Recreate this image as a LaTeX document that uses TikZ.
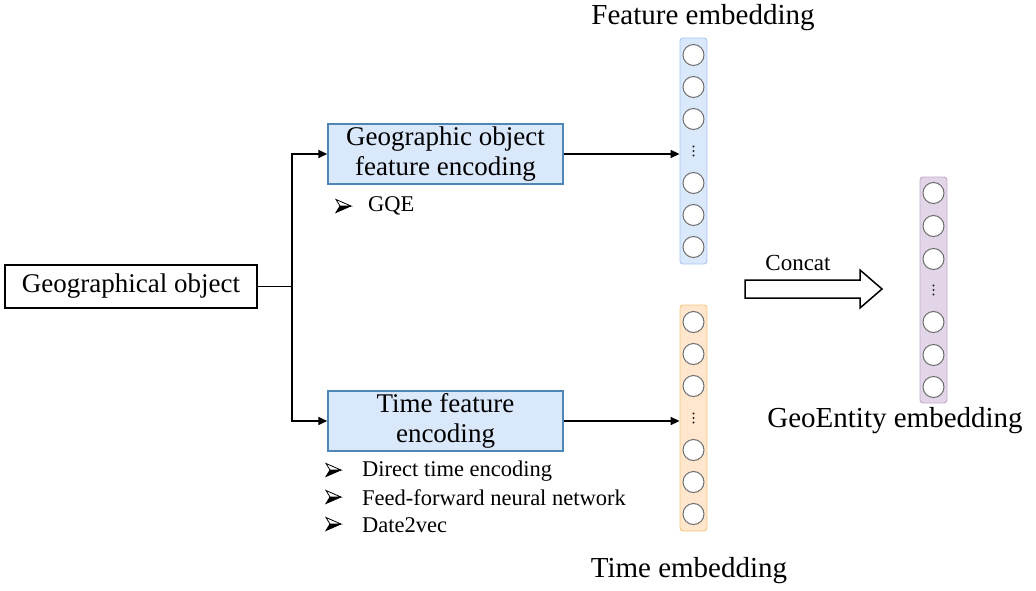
\documentclass[tikz,border=0pt]{standalone}
\usepackage{fontspec}
\setmainfont{Liberation Serif}
\usetikzlibrary{arrows.meta}
\definecolor{encfill}{HTML}{DAE8FC}
\definecolor{encdraw}{HTML}{4F86B5}
\definecolor{vbfill}{HTML}{DAE8FC}
\definecolor{vbdraw}{HTML}{A9C4EB}
\definecolor{vofill}{HTML}{FFE6CC}
\definecolor{vodraw}{HTML}{F2C77E}
\definecolor{vpfill}{HTML}{E1D5E7}
\definecolor{vpdraw}{HTML}{C3ABD0}
\definecolor{neudraw}{HTML}{6E6E6E}
\tikzset{
  plainbox/.style={draw=black, line width=1.1pt, minimum width=252pt, minimum height=43pt, inner sep=0pt, font=\fontsize{27}{30}\selectfont},
  encbox/.style={draw=encdraw, fill=encfill, line width=1.5pt, minimum width=235pt, minimum height=60pt, inner sep=0pt, align=center, font=\fontsize{27}{30}\selectfont},
  bultext/.style={anchor=west, inner sep=0pt, font=\fontsize{22.5}{25}\selectfont},
  biglabel/.style={inner sep=0pt, font=\fontsize{29}{32}\selectfont},
  vecbox/.style={rounded corners=3pt, line width=0.9pt, minimum width=27pt, minimum height=226pt, inner sep=0pt},
  neuron/.style={circle, draw=neudraw, fill=white, line width=1pt, minimum size=21pt, inner sep=0pt},
  conn/.style={draw=black, line width=1.8pt},
  arr/.style={conn, -{Triangle[length=9pt,width=8pt]}},
  bulletsym/.pic={
    \fill[black] (0,6.5) -- (15,0) -- (4,0) -- cycle;
    \draw[black, line width=0.8pt, line join=miter] (0,-6.5) -- (15,0) -- (4,0) -- cycle;
    \draw[black, line width=0.8pt, line join=miter] (4,0) -- (0,6.5) -- (15,0);
  },
}
\begin{document}
\begin{tikzpicture}[x=1pt,y=-1pt]
\useasboundingbox (0,0) rectangle (1036,591);
% input
\node[plainbox] (geo) at (131,286.5) {Geographical object};
% encoders
\node[encbox] (gfe) at (445.5,154) {Geographic object\\feature encoding};
\node[encbox] (tfe) at (445.5,421) {Time feature\\encoding};
% bullets
\node[bultext] (b1) at (368,206) {GQE};
\node[bultext] (b2) at (362,471) {Direct time encoding};
\node[bultext] (b3) at (362,498) {Feed-forward neural network};
\node[bultext] (b4) at (362,525) {Date2vec};
\pic at (336,206) {bulletsym};
\pic at (326,470) {bulletsym};
\pic at (326,497) {bulletsym};
\pic at (326,524) {bulletsym};
% vectors
\node[vecbox, draw=vbdraw, fill=vbfill] (fv) at (693.5,151) {};
\node[vecbox, draw=vodraw, fill=vofill] (tv) at (693.5,418) {};
\node[vecbox, draw=vpdraw, fill=vpfill] (gv) at (933.5,290) {};
\foreach \i/\dy in {1/-96,2/-64,3/-32,5/32,6/64,7/96}{
  \node[neuron] (fv\i) at (693.5,{151+\dy}) {};
  \node[neuron] (tv\i) at (693.5,{418+\dy}) {};
}
\foreach \i/\dy in {1/-97,2/-64,3/-31,5/32,6/65,7/97}{
  \node[neuron] (gv\i) at (933.5,{290+\dy}) {};
}
\foreach \cx/\cy in {693.5/151,693.5/418,933.5/290}{
  \foreach \d in {-4.5,0,4.5}{
    \fill[black!85] (\cx,{\cy+\d}) circle (1.2pt);
  }
}
% labels
\node[biglabel] (lf) at (703,18) {Feature embedding};
\node[biglabel] (lt) at (689,571) {Time embedding};
\node[biglabel] (lg) at (895,421) {GeoEntity embedding};
\node[inner sep=0pt, font=\fontsize{23}{25}\selectfont] (lc) at (798,263) {Concat};
% connectors
\coordinate (j) at (292,286.5);
\draw[conn] (geo.east) -- (j);
\draw[arr] (j) |- (gfe.west);
\draw[arr] (j) |- (tfe.west);
\draw[arr] (gfe.east) -- (gfe.east -| fv.west);
\draw[arr] (tfe.east) -- (tfe.east -| tv.west);
% concat block arrow
\draw[line width=1.5pt, line join=miter, fill=white] (745,280) -- (860,280) -- (860,270) -- (882,289) -- (860,308) -- (860,298) -- (745,298) -- cycle;
\end{tikzpicture}
\end{document}
